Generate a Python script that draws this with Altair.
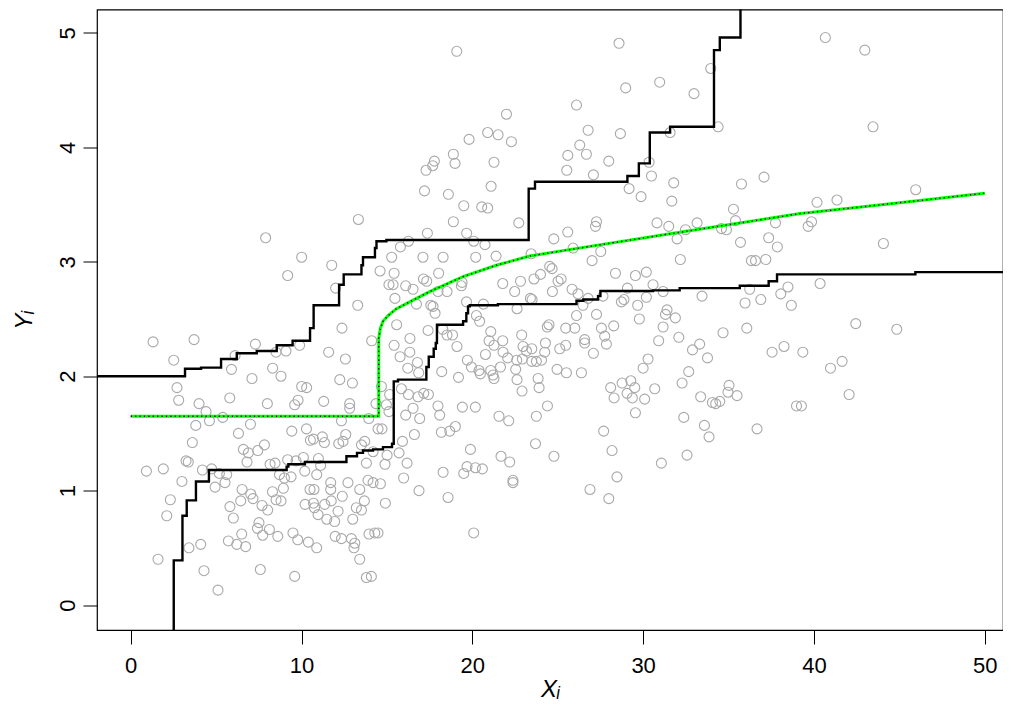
import altair as alt
import pandas as pd

# scatter points (X_i, Y_i)
xs = [7.90, 10.01, 11.77, 9.19, 12.00, 1.31, 3.71, 2.52, 7.30, 6.11, 8.51, 9.09, 9.89, 11.59, 5.90, 8.31, 7.10, 8.80,
      2.71, 2.81, 4.00, 5.80, 8.00, 10.01, 10.30, 9.80, 9.60, 11.30, 4.41, 5.39, 4.61, 3.81, 7.01, 6.31, 9.43, 10.29,
      10.52, 11.22, 11.34, 10.70, 3.61, 6.60, 6.89, 7.44, 7.83, 6.81, 0.92, 1.91, 3.24, 3.37, 4.20, 4.74, 5.19, 5.62,
      5.52, 4.94, 3.00, 8.16, 8.45, 9.19, 9.68, 10.11, 10.99, 11.12, 10.19, 10.89, 8.71, 9.00, 9.39, 8.94, 6.52, 7.03,
      7.16, 6.44, 8.30, 8.51, 8.80, 5.81, 7.69, 8.02, 6.01, 2.32, 2.11, 10.50, 10.73, 11.71, 11.71, 10.21, 10.70, 10.76,
      11.36, 10.97, 11.48, 11.94, 11.74, 7.51, 7.42, 8.12, 7.73, 8.61, 6.50, 5.72, 6.21, 6.73, 9.50, 9.78, 10.40, 10.89,
      11.97, 3.41, 4.10, 1.60, 4.29, 7.59, 9.60, 5.11,
      13.33, 18.89, 22.72, 17.37, 19.67, 16.26, 15.79, 20.08, 20.74, 24.77, 25.59, 15.28, 17.11, 18.29, 20.20, 21.39,
      23.44, 14.60, 15.42, 18.03, 24.53, 24.67, 23.99, 23.61, 22.82, 21.78, 22.48, 24.69, 25.02, 25.20, 15.12, 15.36,
      16.10, 16.53, 17.14, 17.33, 17.99, 18.52, 19.36, 19.40, 15.47, 16.73, 19.66, 20.65, 23.40, 23.50, 22.62, 13.29,
      17.57, 17.70, 17.82, 20.24, 20.43, 12.37, 15.57, 17.41, 18.27, 18.52, 18.84, 19.10, 21.08, 24.49, 24.39, 25.47,
      14.11, 15.42, 16.35, 20.98, 21.78, 21.27, 22.89, 24.28, 15.77, 16.34, 12.57, 20.77, 21.80, 22.07, 22.97, 23.17,
      23.48, 24.24, 25.12, 25.47, 19.71, 19.95, 20.39, 20.47, 21.08, 21.21, 21.65, 22.60, 22.93, 23.48, 23.75, 24.05,
      22.54, 16.22, 16.79, 16.86, 18.21, 19.19, 24.96, 12.24, 12.98, 21.27, 22.62, 23.85, 22.91, 23.91, 14.68, 15.16,
      15.85, 16.26, 16.82, 17.16, 17.43, 12.82, 12.82, 14.36, 14.97, 15.12, 16.53, 17.99, 19.42, 20.18, 24.40, 13.94,
      16.10, 16.92, 18.09, 21.56, 22.13, 23.75, 12.34,
      14.48, 14.71, 16.61, 15.91, 15.71, 16.18, 15.98, 16.88, 15.01, 14.89, 14.19, 13.80, 13.51, 13.70, 12.59, 12.43,
      12.18, 12.72, 13.41, 13.89, 14.19, 14.62, 12.39, 13.68, 13.21, 13.51, 14.91, 12.14, 13.00, 12.34, 12.92, 13.12,
      13.07, 13.95, 14.29, 14.48, 13.41, 13.80, 14.09, 18.19, 18.68, 19.01, 19.89, 18.29, 19.50, 19.69, 20.18, 20.59,
      18.58, 20.08, 21.68, 22.19, 22.38, 22.38, 23.70, 24.78,
      19.09, 22.00, 20.90, 21.51, 19.81, 22.29, 18.89, 18.99, 17.78, 17.68, 17.29, 21.27, 17.20, 18.60, 21.10, 19.50,
      20.55, 20.90,
      28.59, 28.98, 30.97, 32.98, 33.96, 26.10, 26.78, 28.67, 31.58, 34.39, 26.29, 26.68, 25.59, 25.53, 27.99, 27.09,
      30.35, 30.49, 31.79, 29.18, 29.88, 31.68, 35.76, 37.08, 35.29, 27.27,
      27.21, 30.81, 31.50, 33.16, 32.48, 34.59, 34.88, 35.41, 37.75, 37.35, 37.86, 31.99, 35.70, 25.90, 27.52, 27.01,
      32.18, 36.34, 36.58, 37.18, 28.38, 29.55, 30.19, 30.58, 29.08, 31.17, 30.19, 33.45, 25.84, 26.19, 26.78, 26.48,
      27.65, 28.73, 28.88, 29.68, 36.24, 38.48, 38.06, 36.89, 35.97, 38.68, 27.27, 26.10, 31.31, 31.40, 31.89, 29.78,
      28.28, 27.56, 31.17, 26.00, 36.07, 34.68, 27.75, 27.85, 26.58, 26.58, 27.09, 30.91, 32.09, 33.31, 32.89, 33.77,
      37.55, 38.25, 39.35, 30.29, 30.00, 25.51, 26.39, 32.67, 32.28, 28.10, 28.77, 29.28, 29.51, 29.06, 29.37, 28.30,
      30.09, 30.68, 35.03, 34.97, 35.50, 33.37, 34.06, 34.25, 34.49, 29.55, 32.38, 38.98, 39.27,
      27.69, 28.18, 28.47, 26.89, 27.99, 31.07, 32.57, 33.59, 33.86, 36.67,
      40.67, 42.98, 43.46, 40.18, 41.35, 45.96, 39.86, 39.66, 44.07, 40.36, 42.45, 44.85, 41.65, 40.97, 42.06]
ys = [3.21, 3.04, 2.97, 2.88, 2.77, 2.30, 2.32, 2.14, 2.28, 2.18, 2.21, 2.22, 2.27, 2.21, 2.06, 2.07, 1.98, 2.00,
      1.90, 1.79, 1.76, 1.81, 1.76, 1.91, 1.90, 1.79, 1.75, 1.78, 1.69, 1.64, 1.61, 1.57, 1.58, 1.50, 1.52, 1.54,
      1.44, 1.47, 1.42, 1.45, 1.42, 1.36, 1.33, 1.35, 1.40, 1.25, 1.17, 1.19, 1.26, 1.25, 1.18, 1.19, 1.15, 1.14,
      1.07, 1.03, 1.08, 1.23, 1.24, 1.27, 1.26, 1.29, 1.28, 1.22, 1.17, 1.14, 1.14, 1.11, 1.12, 1.02, 1.01, 0.97,
      0.93, 0.91, 0.99, 0.92, 0.91, 0.86, 0.87, 0.83, 0.76, 0.92, 0.78, 1.01, 1.01, 1.01, 1.07, 0.88, 0.89, 0.85,
      0.88, 0.79, 0.75, 0.73, 0.91, 0.72, 0.67, 0.66, 0.61, 0.60, 0.62, 0.56, 0.53, 0.51, 0.63, 0.57, 0.55, 0.50,
      0.60, 0.50, 0.53, 0.40, 0.30, 0.31, 0.25, 0.13,
      3.37, 3.35, 3.34, 3.25, 3.25, 3.18, 3.13, 3.18, 3.15, 3.20, 3.26, 3.04, 3.04, 3.04, 3.04, 3.05,
      3.07, 2.92, 2.90, 2.90, 2.96, 2.94, 2.89, 2.85, 2.83, 2.81, 2.74, 2.74, 2.83, 2.85, 2.80, 2.80,
      2.79, 2.76, 2.85, 2.83, 2.74, 2.74, 2.79, 2.82, 2.68, 2.63, 2.65, 2.63, 2.68, 2.67, 2.59, 2.62,
      2.62, 2.61, 2.55, 2.53, 2.48, 2.42, 2.45, 2.40, 2.41, 2.36, 2.36, 2.26, 2.39, 2.45, 2.43, 2.42,
      2.31, 2.27, 2.33, 2.31, 2.31, 2.27, 2.36, 2.29, 2.17, 2.21, 2.15, 2.19, 2.21, 2.16, 2.26, 2.22,
      2.24, 2.21, 2.24, 2.27, 2.14, 2.08, 2.05, 2.02, 2.05, 2.01, 2.08, 2.14, 2.15, 2.13, 2.13, 2.14,
      2.06, 2.07, 2.12, 2.03, 2.04, 1.99, 2.06, 1.97, 1.94, 1.98, 1.97, 1.98, 1.87, 1.90, 1.91, 1.84,
      1.89, 1.84, 1.82, 1.85, 1.84, 1.76, 1.72, 1.76, 1.75, 1.69, 1.72, 1.74, 1.73, 1.73, 1.74, 1.63,
      1.66, 1.63, 1.66, 1.65, 1.61, 1.65, 1.61,
      1.54, 1.54, 1.49, 1.43, 1.33, 1.24, 1.11, 1.00, 1.31, 1.23, 1.34, 1.24, 1.40, 1.43, 1.49, 1.43,
      1.41, 1.07, 1.01, 1.09, 1.07, 1.06, 0.95, 0.91, 0.85, 0.83, 0.89, 0.82, 0.75, 0.58, 0.58, 0.54,
      0.50, 0.62, 0.63, 0.63, 0.40, 0.24, 0.25, 1.51, 1.52, 1.56, 1.36, 1.16, 1.15, 1.21, 1.20, 1.19,
      0.94, 0.63, 1.30, 1.25, 1.09, 1.07, 1.41, 1.30,
      4.84, 4.29, 4.13, 4.11, 4.07, 4.05, 3.94, 3.86, 3.88, 3.84, 3.80, 3.87, 3.62, 3.59, 3.66, 3.49,
      3.48, 3.47,
      4.91, 4.52, 4.57, 4.47, 4.69, 4.37, 4.15, 4.12, 4.13, 4.18, 4.02, 3.94, 3.93, 3.80, 3.88, 3.76,
      3.87, 3.75, 3.69, 3.64, 3.57, 3.53, 3.68, 3.74, 3.46, 3.35,
      3.31, 3.34, 3.31, 3.34, 3.28, 3.29, 3.28, 3.36, 3.34, 3.21, 3.13, 3.20, 3.17, 3.12, 3.09, 3.01,
      3.02, 3.01, 3.01, 3.02, 2.90, 2.88, 2.91, 2.80, 2.77, 2.74, 2.69, 2.70, 2.76, 2.72, 2.68, 2.62,
      2.70, 2.65, 2.67, 2.62, 2.76, 2.78, 2.72, 2.67, 2.64, 2.62, 2.54, 2.53, 2.54, 2.58, 2.51, 2.50,
      2.44, 2.42, 2.43, 2.42, 2.42, 2.38, 2.35, 2.28, 2.32, 2.29, 2.20, 2.31, 2.34, 2.28, 2.23, 2.16,
      2.21, 2.26, 2.21, 2.15, 2.07, 2.03, 2.03, 2.04, 1.94, 1.90, 1.94, 1.96, 1.90, 1.85, 1.81, 1.81,
      1.80, 1.89, 1.92, 1.86, 1.83, 1.82, 1.77, 1.76, 1.78, 1.68, 1.64, 1.74, 1.74,
      1.52, 1.35, 1.12, 1.01, 0.93, 1.24, 1.31, 1.57, 1.47, 1.54,
      4.96, 4.85, 4.18, 3.52, 3.54, 3.63, 3.35, 3.31, 3.16, 2.81, 2.46, 2.41, 2.13, 2.07, 1.84]

# upper step curve: jump locations and levels after each jump
upper_x = [-2.5, 3.18, 4.12, 5.29, 6.21, 7.38, 8.55, 9.48, 10.50, 10.71, 12.20, 12.47, 13.51, 13.60, 14.30,
           14.39, 14.97, 23.30, 23.67, 29.08, 29.75, 30.39, 31.58, 34.15, 34.49, 35.70, 53.0]
upper_y = [2.00, 2.065, 2.075, 2.15, 2.20, 2.22, 2.27, 2.31, 2.42, 2.62, 2.80, 2.89, 2.97, 3.04, 3.12,
           3.18, 3.19, 3.64, 3.70, 3.75, 3.86, 4.13, 4.18, 4.85, 4.96, 6.0, 6.0]

# lower step curve
lower_x = [-2.5, 2.52, 3.03, 3.28, 3.82, 4.58, 9.13, 9.23, 10.20, 12.63, 13.25, 13.60, 14.19, 14.77, 15.30,
           15.40, 15.65, 17.31, 17.45, 17.74, 17.86, 17.93, 19.46, 19.65, 19.75, 19.85, 21.50, 26.10, 26.50,
           27.36, 27.50, 30.58, 32.14, 35.66, 37.35, 37.84, 45.94, 53.0]
lower_y = [-1.0, 0.39, 0.78, 0.915, 1.08, 1.18, 1.21, 1.23, 1.25, 1.30, 1.33, 1.35, 1.36, 1.38, 1.41,
           1.955, 1.97, 2.08, 2.17, 2.24, 2.29, 2.45, 2.48, 2.55, 2.61, 2.62, 2.63, 2.66, 2.67,
           2.70, 2.745, 2.75, 2.77, 2.79, 2.83, 2.89, 2.91, 2.91]

# green curve
green_x = [0.0, 14.52, 14.52, 14.62, 14.77, 15.07, 15.56, 16.34, 17.51, 19.46, 21.41, 23.36, 25.41, 32.24,
           39.10, 44.63, 50.0]
green_y = [1.65, 1.65, 2.33, 2.42, 2.48, 2.53, 2.59, 2.65, 2.74, 2.87, 2.97, 3.05, 3.10, 3.26,
           3.42, 3.51, 3.60]

x_ticks = [0, 10, 20, 30, 40, 50]
y_ticks = [0, 1, 2, 3, 4, 5]

FONT = "Liberation Sans"

xscale = alt.Scale(domain=[-1.973, 51.07], nice=False, zero=False)
yscale = alt.Scale(domain=[-0.2185, 5.2054], nice=False, zero=False)

xaxis = alt.Axis(values=x_ticks, title="Xᵢ", grid=False, domain=False, ticks=True, tickSize=14,
                 tickColor="black", tickWidth=1, labelFont=FONT, labelFontSize=22, labelColor="black",
                 labelPadding=28, labelBaseline="alphabetic", labelFlush=False, labelOverlap=False,
                 titleFont=FONT, titleFontSize=24, titleFontStyle="italic", titleFontWeight="normal",
                 titleColor="black", titleY=66, titleBaseline="alphabetic", format="d")
yaxis = alt.Axis(values=y_ticks, title="Yᵢ", grid=False, domain=False, ticks=True, tickSize=14,
                 tickColor="black", tickWidth=1, labelFont=FONT, labelFontSize=22, labelColor="black",
                 labelAngle=270, labelAlign="center", labelBaseline="alphabetic", labelPadding=9,
                 labelFlush=False, labelOverlap=False,
                 titleFont=FONT, titleFontSize=24, titleFontStyle="italic", titleFontWeight="normal",
                 titleColor="black", titleAngle=270, titleX=-66, titleBaseline="alphabetic", format="d")

X = alt.X("x:Q", scale=xscale, axis=xaxis)
Y = alt.Y("y:Q", scale=yscale, axis=yaxis)

pts = alt.Chart(pd.DataFrame({"x": xs, "y": ys})).mark_point(
    shape="circle", filled=False, color="#a9a9a9", size=100, strokeWidth=1.1, opacity=1, clip=True
).encode(x=X, y=Y)

def step_layer(xv, yv):
    return alt.Chart(pd.DataFrame({"x": xv, "y": yv})).mark_line(
        interpolate="step-after", color="black", strokeWidth=2.4, clip=True
    ).encode(x=X, y=Y)

gdf = pd.DataFrame({"x": green_x, "y": green_y, "i": list(range(len(green_x)))})
green = alt.Chart(gdf).mark_line(color="#00ff00", strokeWidth=3, clip=True).encode(
    x=X, y=Y, order="i:Q")
green_dots = alt.Chart(gdf).mark_line(color="black", strokeWidth=1.4, strokeDash=[1.2, 3.2], clip=True).encode(
    x=X, y=Y, order="i:Q")

chart = alt.layer(pts, step_layer(upper_x, upper_y), step_layer(lower_x, lower_y), green, green_dots).properties(
    width=906, height=620.5,
    autosize=alt.AutoSizeParams(type="none"),
    padding={"left": 89, "top": 1.5, "right": 0, "bottom": 78},
    background="white",
).configure_view(stroke="black", strokeWidth=1.2)

chart.save("out.html", embed_options={"renderer": "svg", "actions": False})
